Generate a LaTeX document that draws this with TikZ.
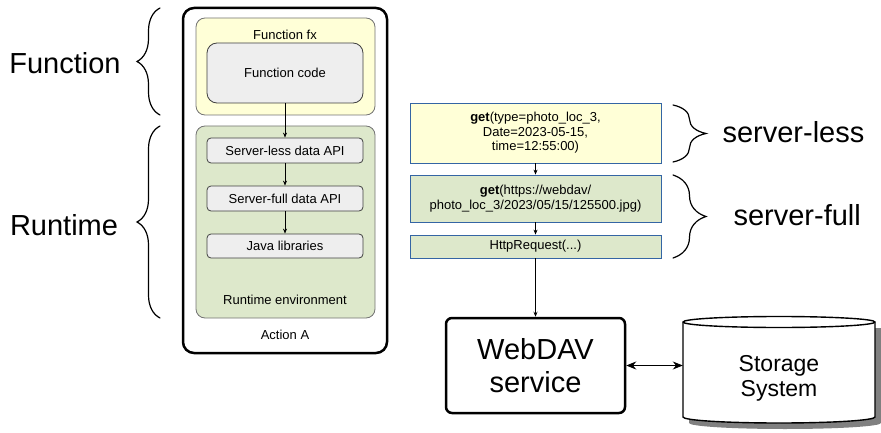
\documentclass[tikz,border=0pt]{standalone}
\usepackage{fontspec}
\setmainfont{Liberation Sans}
\usetikzlibrary{arrows.meta,decorations.pathreplacing}

\definecolor{paleyellow}{HTML}{FFFFD7}
\definecolor{palegreen}{HTML}{DDE8CB}
\definecolor{boxgray}{HTML}{EEEEEE}
\definecolor{edgeblue}{HTML}{3465A4}
\definecolor{shadowgray}{HTML}{808080}

\tikzset{
  px/.style={x=1pt,y=-1pt},
  small/.style={font=\fontsize{13}{14.5}\selectfont},
  big/.style={font=\fontsize{29}{33}\selectfont},
  container/.style={draw=black!55,line width=0.8pt,rounded corners=9pt,inner sep=0pt},
  apibox/.style={draw=black!75,line width=0.8pt,fill=boxgray,rounded corners=4pt,
    inner sep=0pt,minimum width=156pt,minimum height=25pt,small},
  callbox/.style={draw=edgeblue,line width=0.8pt,inner sep=0pt,minimum width=251pt,
    align=center,small},
  flow/.style={-{Stealth[length=5pt,width=4pt]},line width=0.7pt},
  bracket/.style={decorate,line width=1.2pt,line cap=round,
    decoration={brace,amplitude=#1}},
}

\begin{document}
\begin{tikzpicture}[px]
\useasboundingbox (0,0) rectangle (881,433);

% ---- Action A with its function and runtime ----
\node[draw,line width=2.5pt,rounded corners=11pt,minimum width=204pt,minimum height=345pt,
      inner sep=0pt] (action) at (285,180.5) {};
\node[container,fill=paleyellow,minimum width=179pt,minimum height=97pt] (fx) at (285.5,66.5) {};
\node[small] (fxlabel) at (285,35) {Function fx};
\node[draw=black!75,line width=0.8pt,fill=boxgray,rounded corners=10pt,inner sep=0pt,
      minimum width=156pt,minimum height=60pt,small] (code) at (285,73) {Function code};

\node[container,fill=palegreen,minimum width=179pt,minimum height=192pt] (rt) at (285.5,222) {};
\node[apibox] (sless) at (285,150.5) {Server-less data API};
\node[apibox] (sfull) at (285,198.5) {Server-full data API};
\node[apibox,minimum height=24pt] (java) at (285,246) {Java libraries};
\node[small] (rtlabel) at (285,300) {Runtime environment};
\node[small] (actlabel) at (285,335) {Action A};

\draw[flow] (code) -- (sless);
\draw[flow] (sless) -- (sfull);
\draw[flow] (sfull) -- (java);

% ---- left-hand labels ----
\node[big] (funcword) at (65,63) {Function};
\node[big] (rtword) at (64,225) {Runtime};
\coordinate (fb1) at (160,115);
\coordinate (fb2) at (160,8);
\coordinate (rb1) at (160,318);
\coordinate (rb2) at (160,126);
\draw[bracket=23pt] (fb1) -- (fb2);
\draw[bracket=23pt] (rb1) -- (rb2);

% ---- call chain ----
\node[callbox,fill=paleyellow,minimum height=60pt] (get1) at (535.5,133)
  {\textbf{get}(type=photo\_loc\_3,\\Date=2023-05-15,\\time=12:55:00)};
\node[callbox,fill=palegreen,minimum height=47pt] (get2) at (535.5,198.5)
  {\textbf{get}(https://webdav/\\photo\_loc\_3/2023/05/15/125500.jpg)};
\node[callbox,fill=palegreen,minimum height=23pt] (http) at (535.5,246.5) {HttpRequest(...)};

\draw[flow] (get1) -- (get2);
\draw[flow] (get2) -- (http);

\coordinate (lb1) at (673,105);
\coordinate (lb2) at (673,162);
\coordinate (fb3) at (673,175);
\coordinate (fb4) at (673,258);
\draw[bracket=33pt] (lb1) -- (lb2);
\draw[bracket=33pt] (fb3) -- (fb4);
\node[big,anchor=west] (lessword) at (719,132) {server-less};
\node[big,anchor=west] (fullword) at (730,215) {server-full};

% ---- WebDAV service and storage ----
\node[draw,line width=2.5pt,rounded corners=6pt,minimum width=179pt,minimum height=95pt,
      inner sep=0pt,align=center,big] (dav) at (535.5,365.5) {WebDAV\\service};
\draw[flow] (http) -- (dav);

% cylinder drawn around the storage node
\fill[shadowgray] (689,328) -- (689,423) arc[start angle=180,end angle=360,x radius=96,y radius=-6]
  -- (881,328) -- cycle;
\filldraw[fill=white,draw=black,line width=1.4pt]
  (683,322) -- (683,417) arc[start angle=180,end angle=360,x radius=96,y radius=-6]
  -- (875,322) arc[start angle=0,end angle=180,x radius=96,y radius=-5.5] -- cycle;
\draw[line width=1.4pt] (683,322) arc[start angle=180,end angle=360,x radius=96,y radius=-5.5];
\node[minimum width=192pt,minimum height=95pt,inner sep=0pt,align=center,
      font=\fontsize{23}{25}\selectfont] (store) at (779,378) {Storage\\System};

\draw[{Stealth[length=10pt,width=8pt]}-{Stealth[length=10pt,width=8pt]},line width=0.9pt]
  (dav.east) -- (dav.east -| store.west);
\end{tikzpicture}
\end{document}
